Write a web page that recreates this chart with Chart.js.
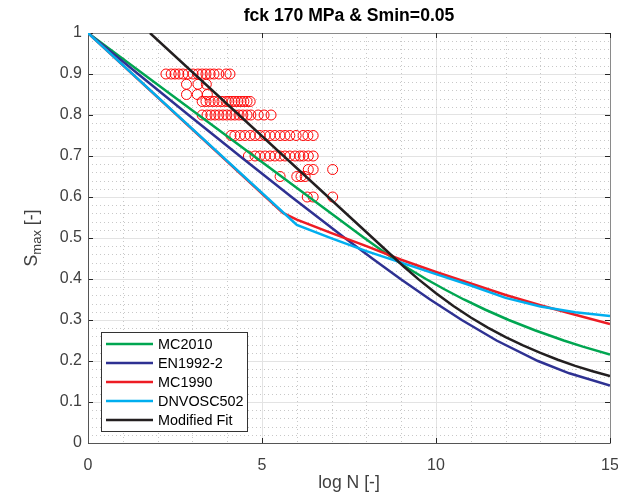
<!DOCTYPE html>
<html>
<head>
<meta charset="utf-8">
<script src="https://cdn.jsdelivr.net/npm/chart.js@4.4.1/dist/chart.umd.min.js"></script>
<style>
  html, body { margin: 0; padding: 0; background: #fff; }
</style>
</head>
<body>
<canvas id="fatigueChart" width="618" height="498"></canvas>
<script>
// ---- data ----
const chartTitle = 'fck 170 MPa & Smin=0.05';
const xLabel = 'log N [-]';

const mc2010LogN = [0, 4.0, 7.94, 8.77, 9.22, 9.71, 10.24, 10.80, 11.42, 12.09, 12.84, 13.67, 14.22, 15];
const mc2010Smax = [1, 0.748, 0.5, 0.45, 0.425, 0.4, 0.375, 0.35, 0.325, 0.3, 0.275, 0.25, 0.235, 0.216];

const en1992LogN = [0, 1.44, 2.89, 4.36, 5.85, 7.38, 8.17, 8.98, 9.83, 10.74, 11.74, 12.93, 13.83, 15];
const en1992Smax = [1, 0.9, 0.8, 0.7, 0.6, 0.5, 0.45, 0.4, 0.35, 0.3, 0.25, 0.2, 0.17, 0.14];

const mc1990LogN = [0, 5.6, 6, 7, 8, 9, 10, 11, 12, 13, 14, 15];
const mc1990Smax = [1, 0.561, 0.545, 0.512, 0.48, 0.447, 0.417, 0.389, 0.361, 0.336, 0.313, 0.29];

const dnvLogN = [0, 6.0, 7, 8, 9, 10, 11, 12, 13, 14, 15];
const dnvSmax = [1, 0.532, 0.499, 0.468, 0.44, 0.412, 0.384, 0.354, 0.333, 0.319, 0.31];

const fitLogN = [1.78, 9.08, 9.5, 10, 10.5, 11, 11.5, 12, 12.5, 13, 13.5, 14, 14.5, 15];
const fitSmax = [1, 0.43, 0.399, 0.365, 0.334, 0.306, 0.281, 0.258, 0.238, 0.22, 0.203, 0.188, 0.175, 0.163];

// test results, one array of log N per stress level
const testLevels = [0.9, 0.875, 0.85, 0.833, 0.8, 0.75, 0.7, 0.667, 0.65, 0.6];
const test090 = [2.24, 2.39, 2.5, 2.61, 2.73, 2.87, 3.02, 3.16, 3.28, 3.39, 3.51, 3.62, 3.76, 3.97, 4.08];
const test0875 = [2.83, 3.16, 3.4];
const test085 = [2.83, 3.14, 3.43];
const test0833 = [3.28, 3.39, 3.51, 3.62, 3.74, 3.85, 3.97, 4.05, 4.14, 4.22, 4.31, 4.4, 4.48, 4.57, 4.66];
const test080 = [3.28, 3.42, 3.53, 3.65, 3.76, 3.88, 3.99, 4.11, 4.22, 4.34, 4.45, 4.57, 4.68, 4.89, 5.06, 5.26];
const test075 = [4.11, 4.22, 4.37, 4.51, 4.66, 4.8, 4.94, 5.09, 5.23, 5.37, 5.52, 5.66, 5.8, 5.98, 6.18, 6.32, 6.47];
const test070 = [4.61, 4.8, 4.94, 5.09, 5.23, 5.37, 5.52, 5.66, 5.8, 5.95, 6.09, 6.19, 6.33, 6.47];
const test0667 = [6.33, 6.47, 7.03];
const test065 = [5.52, 6.0, 6.12, 6.24];
const test060 = [6.3, 6.47, 7.03];
const testLogN = [test090, test0875, test085, test0833, test080, test075, test070, test0667, test065, test060];

const xTickStep = 5, xMinorStep = 1;
const yTickStep = 0.1, yMinorStep = 0.02;

// ---- helpers ----
const toPoints = (xs, ys) => xs.map((x, i) => ({ x: x, y: ys[i] }));
const testPoints = [];
testLevels.forEach((s, i) => testLogN[i].forEach(n => testPoints.push({ x: n, y: s })));

const lineSet = (label, xs, ys, color, order) => ({
  label: label,
  data: toPoints(xs, ys),
  showLine: true,
  borderColor: color,
  backgroundColor: color,
  borderWidth: 2.5,
  pointRadius: 0,
  tension: 0,
  order: order
});

const axisColor = '#262626';
const labelColor = '#404040';
const fontFamily = '"Liberation Sans", Arial, Helvetica, sans-serif';

// minor grid, box, inward ticks, legend, title and y label in MATLAB style
const matlabLook = {
  id: 'matlabLook',
  beforeDatasetsDraw(chart) {
    const { ctx, chartArea: a, scales: { x, y } } = chart;
    ctx.save();
    ctx.strokeStyle = '#c8c8c8';
    ctx.lineWidth = 1;
    ctx.setLineDash([1, 3]);
    for (let v = x.min + xMinorStep; v < x.max; v += xMinorStep) {
      if (Math.abs(v / xTickStep - Math.round(v / xTickStep)) < 1e-6) continue;
      const px = Math.round(x.getPixelForValue(v)) + 0.5;
      ctx.beginPath(); ctx.moveTo(px, a.top); ctx.lineTo(px, a.bottom); ctx.stroke();
    }
    for (let k = 1; k * yMinorStep < y.max - 1e-9; k++) {
      const v = k * yMinorStep;
      if (Math.abs(v / yTickStep - Math.round(v / yTickStep)) < 1e-6) continue;
      const py = Math.round(y.getPixelForValue(v)) + 0.5;
      ctx.beginPath(); ctx.moveTo(a.left, py); ctx.lineTo(a.right, py); ctx.stroke();
    }
    ctx.setLineDash([]);

    // box
    ctx.strokeStyle = '#8a8a8a';
    ctx.strokeRect(a.left + 0.5, a.top + 0.5, a.right - a.left, a.bottom - a.top);

    // inward ticks on all four sides
    ctx.strokeStyle = axisColor;
    const tl = 5;
    x.ticks.forEach(t => {
      const px = Math.round(x.getPixelForValue(t.value)) + 0.5;
      ctx.beginPath();
      ctx.moveTo(px, a.bottom); ctx.lineTo(px, a.bottom - tl);
      ctx.moveTo(px, a.top); ctx.lineTo(px, a.top + tl);
      ctx.stroke();
    });
    y.ticks.forEach(t => {
      const py = Math.round(y.getPixelForValue(t.value)) + 0.5;
      ctx.beginPath();
      ctx.moveTo(a.left, py); ctx.lineTo(a.left + tl, py);
      ctx.moveTo(a.right, py); ctx.lineTo(a.right - tl, py);
      ctx.stroke();
    });
    ctx.strokeStyle = '#555';
    ctx.beginPath();
    ctx.moveTo(a.left + 0.5, a.top); ctx.lineTo(a.left + 0.5, a.bottom + 0.5);
    ctx.lineTo(a.right, a.bottom + 0.5);
    ctx.stroke();
    ctx.restore();
  },
  afterDatasetsDraw(chart) {
    const { ctx, chartArea: a } = chart;
    const items = chart.data.datasets.filter(d => d.showLine);
    const bx = a.left + 13, by = a.bottom - 111, bw = 146, bh = 99;
    ctx.save();
    ctx.fillStyle = '#fff';
    ctx.fillRect(bx, by, bw, bh);
    ctx.strokeStyle = '#333';
    ctx.lineWidth = 1;
    ctx.strokeRect(bx + 0.5, by + 0.5, bw, bh);
    ctx.font = '14.4px ' + fontFamily;
    ctx.textBaseline = 'middle';
    ctx.textAlign = 'left';
    items.forEach((d, i) => {
      const ry = by + 12 + i * 19;
      ctx.strokeStyle = d.borderColor;
      ctx.lineWidth = 2.5;
      ctx.beginPath(); ctx.moveTo(bx + 5, ry); ctx.lineTo(bx + 52, ry); ctx.stroke();
      ctx.fillStyle = '#000';
      ctx.fillText(d.label, bx + 57, ry + 1);
    });
    ctx.restore();
  },
  afterDraw(chart) {
    const { ctx, chartArea: a } = chart;
    ctx.save();
    ctx.fillStyle = '#000';
    ctx.font = 'bold 17.6px ' + fontFamily;
    ctx.textAlign = 'center';
    ctx.textBaseline = 'middle';
    ctx.fillText(chartTitle, (a.left + a.right) / 2, 16);

    // y label: S with subscript max
    ctx.translate(31, (a.top + a.bottom) / 2);
    ctx.rotate(-Math.PI / 2);
    ctx.fillStyle = labelColor;
    ctx.textAlign = 'left';
    ctx.textBaseline = 'alphabetic';
    const big = '17.6px ' + fontFamily, small = '13px ' + fontFamily;
    ctx.font = big; const wS = ctx.measureText('S').width;
    ctx.font = small; const wSub = ctx.measureText('max').width;
    ctx.font = big; const wTail = ctx.measureText(' [-]').width;
    let cx = -(wS + wSub + wTail) / 2;
    ctx.font = big; ctx.fillText('S', cx, 6); cx += wS;
    ctx.font = small; ctx.fillText('max', cx, 10); cx += wSub;
    ctx.font = big; ctx.fillText(' [-]', cx, 6);
    ctx.restore();
  }
};

new Chart(document.getElementById('fatigueChart'), {
  type: 'scatter',
  data: {
    datasets: [
      lineSet('MC2010', mc2010LogN, mc2010Smax, '#00a651', 5),
      lineSet('EN1992-2', en1992LogN, en1992Smax, '#2e3192', 4),
      lineSet('MC1990', mc1990LogN, mc1990Smax, '#ed1c24', 3),
      lineSet('DNVOSC502', dnvLogN, dnvSmax, '#00aeef', 2),
      lineSet('Modified Fit', fitLogN, fitSmax, '#231f20', 1),
      {
        label: 'Tests',
        data: testPoints,
        showLine: false,
        pointStyle: 'circle',
        pointRadius: 5,
        pointBorderWidth: 1,
        borderColor: '#ff0000',
        backgroundColor: 'rgba(0,0,0,0)',
        order: 10
      }
    ]
  },
  options: {
    responsive: false,
    animation: false,
    layout: { padding: { left: 0, top: 33, right: 8, bottom: 0 } },
    plugins: {
      legend: { display: false },
      title: { display: false },
      tooltip: { enabled: false }
    },
    scales: {
      x: {
        type: 'linear',
        min: 0,
        max: 15,
        afterFit: s => { s.height = 55; s.paddingLeft = 0; s.paddingRight = 0; },
        ticks: {
          stepSize: xTickStep,
          padding: 13,
          color: labelColor,
          font: { family: fontFamily, size: 16 }
        },
        grid: { color: '#e3e3e3', lineWidth: 1, drawTicks: false },
        border: { display: false },
        title: {
          display: true,
          text: xLabel,
          color: labelColor,
          font: { family: fontFamily, size: 17.6 },
          padding: { top: 0, bottom: 4 }
        }
      },
      y: {
        type: 'linear',
        min: 0,
        max: 1,
        afterFit: s => { s.width = 88; },
        ticks: {
          stepSize: yTickStep,
          padding: 6,
          color: labelColor,
          font: { family: fontFamily, size: 16 },
          callback: v => String(Number(v.toFixed(2)))
        },
        grid: { color: '#e3e3e3', lineWidth: 1, drawTicks: false },
        border: { display: false }
      }
    }
  },
  plugins: [matlabLook]
});
</script>
</body>
</html>
